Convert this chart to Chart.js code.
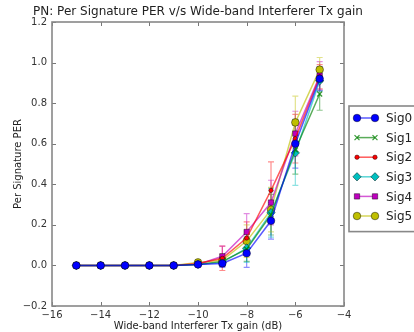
<!DOCTYPE html>
<html>
<head>
<meta charset="utf-8">
<script src="https://cdn.jsdelivr.net/npm/chart.js@4"></script>
<style>
  html, body { margin: 0; padding: 0; background: #fff; }
  #c { display: block; }
</style>
</head>
<body>
<canvas id="c" width="414" height="332"></canvas>
<script>
// 데이터
const chartTitle = 'PN: Per Signature PER v/s Wide-band Interferer Tx gain';
const gains = [-15, -14, -13, -12, -11, -10, -9, -8, -7, -6, -5];
const sigNames = ['Sig0', 'Sig1', 'Sig2', 'Sig3', 'Sig4', 'Sig5'];

const sig0 = [0, 0, 0, 0, 0, 0.005, 0.01, 0.06, 0.22, 0.60, 0.92];
const sig1 = [0, 0, 0, 0, 0, 0.005, 0.02, 0.08, 0.25, 0.57, 0.845];
const sig2 = [0, 0, 0, 0, 0, 0.01, 0.035, 0.135, 0.37, 0.625, 0.93];
const sig3 = [0, 0, 0, 0, 0, 0.005, 0.015, 0.085, 0.26, 0.555, 0.91];
const sig4 = [0, 0, 0, 0, 0, 0.005, 0.045, 0.165, 0.31, 0.65, 0.935];
const sig5 = [0, 0, 0, 0, 0, 0.015, 0.025, 0.12, 0.275, 0.705, 0.965];

// 오차 막대 (반폭)
const err0 = [0, 0, 0, 0, 0, 0.005, 0.02, 0.07, 0.09, 0.12, 0.06];
const err1 = [0, 0, 0, 0, 0, 0.005, 0.02, 0.06, 0.10, 0.12, 0.08];
const err2 = [0, 0, 0, 0, 0, 0.01, 0.06, 0.08, 0.14, 0.12, 0.06];
const err3 = [0, 0, 0, 0, 0, 0.005, 0.02, 0.07, 0.12, 0.16, 0.05];
const err4 = [0, 0, 0, 0, 0, 0.005, 0.05, 0.09, 0.11, 0.11, 0.07];
const err5 = [0, 0, 0, 0, 0, 0.01, 0.03, 0.08, 0.11, 0.13, 0.06];

const xTicks = [-16, -14, -12, -10, -8, -6, -4];
const yTicks = [-0.2, 0.0, 0.2, 0.4, 0.6, 0.8, 1.0, 1.2];

const values = [sig0, sig1, sig2, sig3, sig4, sig5];
const errors = [err0, err1, err2, err3, err4, err5];
const colors = [[0, 0, 255], [0, 128, 0], [255, 0, 0], [0, 191, 191], [191, 0, 191], [191, 191, 0]];
const markers = ['circle', 'crossRot', 'circle', 'rectRot', 'rect', 'circle'];
const markerSizes = [3.8, 3.5, 2.2, 4.2, 3.8, 3.8];

function rgba(c, a) {
  return 'rgba(' + c[0] + ',' + c[1] + ',' + c[2] + ',' + a + ')';
}
function minus(v, d) {
  const s = Math.abs(v).toFixed(d);
  return v < 0 ? '\u2212' + s : s;
}

const datasets = values.map(function (vals, i) {
  return {
    label: sigNames[i],
    data: gains.map(function (g, j) { return { x: g, y: vals[j] }; }),
    errs: errors[i],
    borderColor: rgba(colors[i], 0.65),
    borderWidth: 1.5,
    pointStyle: markers[i],
    pointRadius: markerSizes[i],
    pointBackgroundColor: rgba(colors[i], 1),
    pointBorderColor: i === 1 ? rgba(colors[i], 0.8) : 'rgba(0,0,0,0.55)',
    pointBorderWidth: i === 1 ? 1.2 : 0.8,
    tension: 0
  };
});

// 오차 막대 그리기
const errorBars = {
  id: 'errorBars',
  beforeDatasetsDraw(chart) {
    const ctx = chart.ctx;
    const x = chart.scales.x, y = chart.scales.y;
    ctx.save();
    chart.data.datasets.forEach(function (ds, i) {
      ctx.strokeStyle = rgba(colors[i], 0.45);
      ctx.lineWidth = 1.2;
      ds.data.forEach(function (p, j) {
        const e = ds.errs[j];
        if (!e) return;
        const px = x.getPixelForValue(p.x);
        const top = y.getPixelForValue(p.y + e);
        const bot = y.getPixelForValue(p.y - e);
        ctx.beginPath();
        ctx.moveTo(px, top); ctx.lineTo(px, bot);
        ctx.moveTo(px - 3, top); ctx.lineTo(px + 3, top);
        ctx.moveTo(px - 3, bot); ctx.lineTo(px + 3, bot);
        ctx.stroke();
      });
    });
    ctx.restore();
  }
};

// 테두리, 안쪽 눈금, 제목
const frame = {
  id: 'frame',
  afterDatasetsDraw(chart) {
    const ctx = chart.ctx;
    const a = chart.chartArea;
    const x = chart.scales.x, y = chart.scales.y;
    ctx.save();
    ctx.strokeStyle = '#777';
    ctx.lineWidth = 1;
    xTicks.forEach(function (t) {
      const px = Math.round(x.getPixelForValue(t)) + 0.5;
      ctx.beginPath();
      ctx.moveTo(px, a.bottom); ctx.lineTo(px, a.bottom - 4);
      ctx.moveTo(px, a.top); ctx.lineTo(px, a.top + 4);
      ctx.stroke();
    });
    yTicks.forEach(function (t) {
      const py = Math.round(y.getPixelForValue(t)) + 0.5;
      ctx.beginPath();
      ctx.moveTo(a.left, py); ctx.lineTo(a.left + 4, py);
      ctx.moveTo(a.right, py); ctx.lineTo(a.right - 4, py);
      ctx.stroke();
    });
    ctx.strokeStyle = '#888';
    ctx.lineWidth = 1.6;
    ctx.strokeRect(a.left, a.top, a.right - a.left, a.bottom - a.top);

    // 제목은 플롯 영역 가운데에
    ctx.fillStyle = '#222';
    ctx.font = '12px "DejaVu Sans"';
    ctx.textAlign = 'center';
    ctx.textBaseline = 'middle';
    ctx.fillText(chartTitle, (a.left + a.right) / 2, 12);
    ctx.restore();
  }
};

// 범례 (matplotlib 스타일)
const boxLegend = {
  id: 'boxLegend',
  afterDraw(chart) {
    const ctx = chart.ctx;
    const a = chart.chartArea;
    const left = a.right + 5, top = 106, rowH = 19.6;
    ctx.save();
    ctx.fillStyle = '#fff';
    ctx.fillRect(left, top, 80, rowH * 6 + 8);
    ctx.strokeStyle = '#888';
    ctx.lineWidth = 1.6;
    ctx.strokeRect(left, top, 80, rowH * 6 + 8);
    ctx.font = '12px "DejaVu Sans"';
    ctx.textBaseline = 'middle';
    chart.data.datasets.forEach(function (ds, i) {
      const cy = top + 12 + i * rowH;
      ctx.strokeStyle = ds.borderColor;
      ctx.lineWidth = 1.5;
      ctx.beginPath();
      ctx.moveTo(left + 8, cy); ctx.lineTo(left + 26, cy);
      ctx.stroke();
      [left + 8, left + 26].forEach(function (mx) {
        ctx.fillStyle = ds.pointBackgroundColor;
        ctx.strokeStyle = ds.pointBorderColor;
        ctx.lineWidth = ds.pointBorderWidth;
        Chart.helpers.drawPoint(ctx, {
          pointStyle: ds.pointStyle,
          radius: ds.pointRadius,
          borderWidth: ds.pointBorderWidth
        }, mx, cy);
      });
      ctx.fillStyle = '#222';
      ctx.fillText(ds.label, left + 37, cy + 1);
    });
    ctx.restore();
  }
};

const chart = new Chart(document.getElementById('c').getContext('2d'), {
  type: 'line',
  data: { datasets: datasets },
  options: {
    responsive: false,
    animation: false,
    devicePixelRatio: 1,
    layout: { padding: { top: 22, right: 70, left: 0, bottom: 0 } },
    plugins: {
      legend: { display: false },
      tooltip: { enabled: false },
      title: { display: false }
    },
    scales: {
      x: {
        type: 'linear',
        min: -16, max: -4,
        afterBuildTicks(s) { s.ticks = xTicks.map(function (v) { return { value: v }; }); },
        afterFit(s) { s.height = 26; },
        ticks: {
          color: '#333',
          font: { family: 'DejaVu Sans', size: 10 },
          padding: 3,
          maxRotation: 0,
          callback(v) { return minus(v, 0); }
        },
        grid: { display: false, drawTicks: false, tickLength: 0 },
        border: { display: false },
        title: {
          display: true,
          text: 'Wide-band Interferer Tx gain (dB)',
          color: '#222',
          font: { family: 'DejaVu Sans', size: 10 },
          padding: { top: 0, bottom: 0 }
        }
      },
      y: {
        min: -0.2, max: 1.2,
        afterBuildTicks(s) { s.ticks = yTicks.map(function (v) { return { value: v }; }); },
        afterFit(s) { s.width = 52; },
        ticks: {
          color: '#333',
          font: { family: 'DejaVu Sans', size: 10 },
          padding: 5,
          callback(v) { return minus(v, 1); }
        },
        grid: { display: false, drawTicks: false, tickLength: 0 },
        border: { display: false },
        title: {
          display: true,
          text: 'Per Signature PER',
          color: '#222',
          font: { family: 'DejaVu Sans', size: 10 },
          padding: { top: 12, bottom: 0 }
        }
      }
    }
  },
  plugins: [errorBars, frame, boxLegend]
});
</script>
</body>
</html>
